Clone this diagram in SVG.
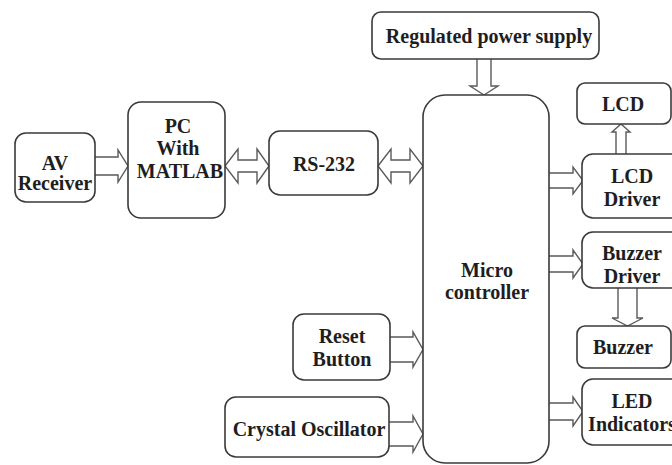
<svg xmlns="http://www.w3.org/2000/svg" width="672" height="465" viewBox="0 0 672 465">
<style>
.box{fill:#fff;stroke:#3a3a3a;stroke-width:1.6}
.arr{fill:#fff;stroke:#5a5a5a;stroke-width:1.4;stroke-linejoin:miter}
text{font-family:"Liberation Serif","Times New Roman",serif;font-weight:bold;font-size:20px;fill:#1e1e1e;text-anchor:middle}
</style>
<rect width="672" height="465" fill="#fff"/>
<g id="connectors">
<path class="arr" d="M95,157 L118,157 L118,150 L128,166 L118,182 L118,175 L95,175"/>
<path class="arr" d="M225,166 L238,149 L238,160 L257,160 L257,149 L269,166 L257,183 L257,172 L238,172 L238,183 Z"/>
<path class="arr" d="M378,166 L391,149 L391,160 L410,160 L410,149 L423,166 L410,183 L410,172 L391,172 L391,183 Z"/>
<path class="arr" d="M477,59 L477,86 L470,86 L484,95 L498,86 L491,86 L491,59"/>
<path class="arr" d="M549,173 L573,173 L573,167 L583,180.5 L573,194 L573,188 L549,188"/>
<path class="arr" d="M549,256 L573,256 L573,250 L583,264 L573,278 L573,272 L549,272"/>
<path class="arr" d="M549,403 L573,403 L573,397 L583,411.5 L573,426 L573,420 L549,420"/>
<path class="arr" d="M616,154 L616,132 L612,132 L621,124 L630,132 L626,132 L626,154"/>
<path class="arr" d="M618,288 L618,318 L612,318 L627.5,326 L643,318 L637,318 L637,288"/>
<path class="arr" d="M390,337 L413,337 L413,332 L423,349.5 L413,367 L413,362 L390,362"/>
<path class="arr" d="M389,422 L413,422 L413,416 L423,434 L413,452 L413,446 L389,446"/>
</g>
<g id="av-receiver"><rect class="box" x="15" y="133" width="80" height="69" rx="11"/><text x="55" y="170">AV</text><text x="55" y="190">Receiver</text></g>
<g id="pc-matlab"><rect class="box" x="128" y="102" width="97" height="116" rx="13"/><text x="178" y="133">PC</text><text x="178" y="155">With</text><text x="180" y="178">MATLAB</text></g>
<g id="rs232"><rect class="box" x="269" y="131" width="109" height="64" rx="11"/><text x="324" y="171">RS-232</text></g>
<g id="power-supply"><rect class="box" x="372" y="12" width="227" height="47" rx="9"/><text x="489" y="43">Regulated power supply</text></g>
<g id="microcontroller"><rect class="box" x="423" y="95" width="126" height="368" rx="22"/><text x="487" y="277">Micro</text><text x="487" y="299">controller</text></g>
<g id="lcd"><rect class="box" x="577" y="83" width="94" height="41" rx="8"/><text x="623" y="111">LCD</text></g>
<g id="lcd-driver"><rect class="box" x="582" y="154" width="100" height="64" rx="11"/><text x="632" y="183">LCD</text><text x="632" y="206">Driver</text></g>
<g id="buzzer-driver"><rect class="box" x="582" y="232" width="100" height="56" rx="11"/><text x="632" y="260">Buzzer</text><text x="632" y="283">Driver</text></g>
<g id="buzzer"><rect class="box" x="577" y="326" width="94" height="42" rx="8"/><text x="623" y="354">Buzzer</text></g>
<g id="led-indicators"><rect class="box" x="582" y="379" width="100" height="66" rx="11"/><text x="632" y="408">LED</text><text x="632" y="431">Indicators</text></g>
<g id="reset-button"><rect class="box" x="293" y="314" width="97" height="66" rx="11"/><text x="342" y="343">Reset</text><text x="342" y="366">Button</text></g>
<g id="crystal-oscillator"><rect class="box" x="225" y="397" width="164" height="60" rx="11"/><text x="309" y="436">Crystal Oscillator</text></g>
</svg>
